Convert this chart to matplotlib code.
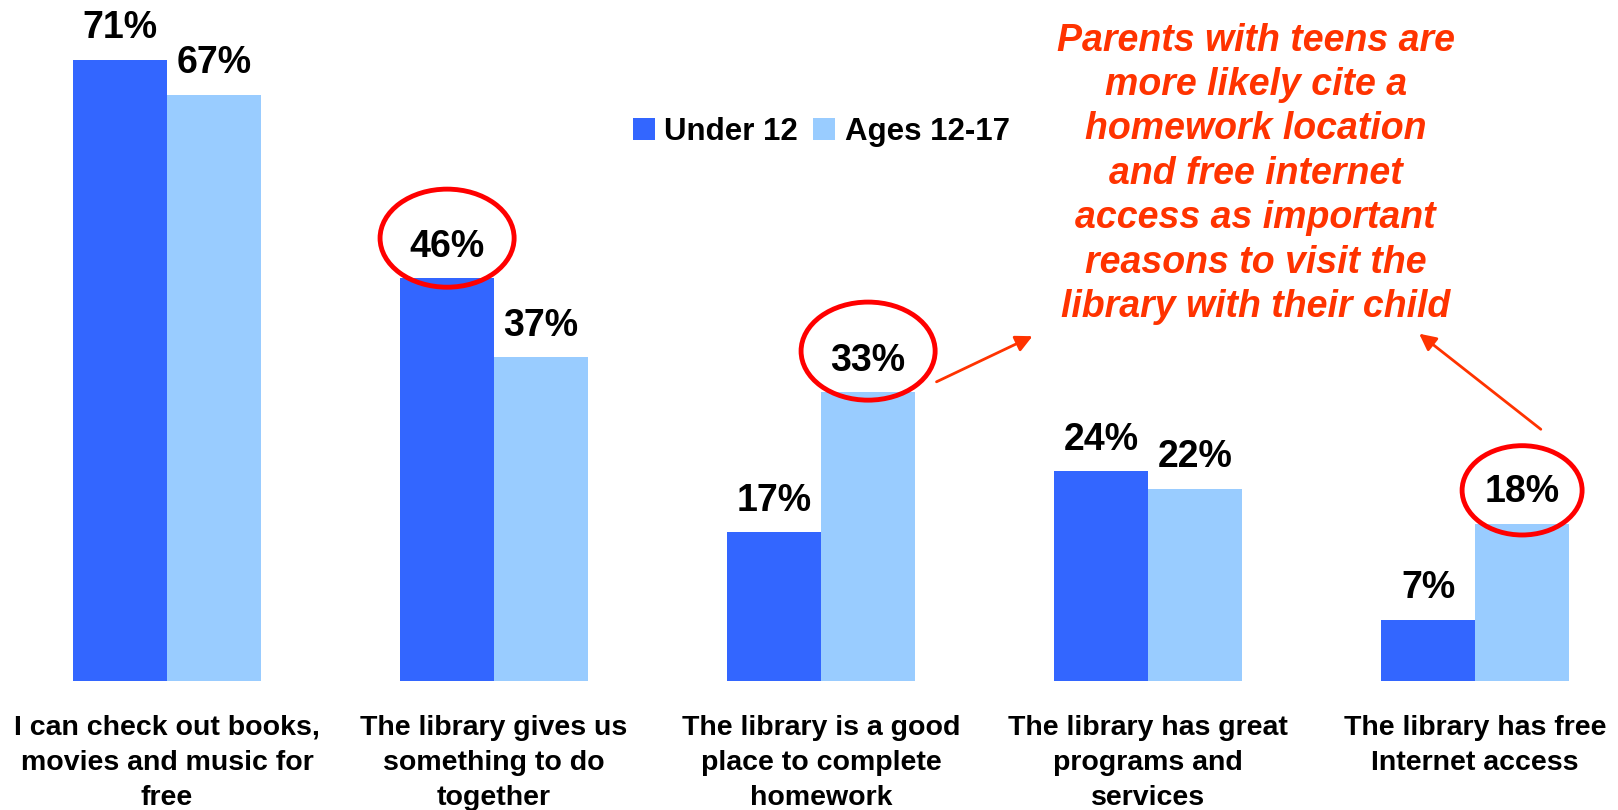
import matplotlib.pyplot as plt
from matplotlib.patches import Ellipse

plt.rcParams['font.family'] = ['Liberation Sans', 'DejaVu Sans']

categories = ['I can check out books,\nmovies and music for\nfree',
              'The library gives us\nsomething to do\ntogether',
              'The library is a good\nplace to complete\nhomework',
              'The library has great\nprograms and\nservices',
              'The library has free\nInternet access']
under12 = [71, 46, 17, 24, 7]
ages12_17 = [67, 37, 33, 22, 18]
series_names = ['Under 12', 'Ages 12-17']
colors = ['#3366FF', '#99CCFF']
note = ('Parents with teens are\nmore likely cite a\nhomework location\nand free internet\n'
        'access as important\nreasons to visit the\nlibrary with their child')
red = '#FF3300'

fig = plt.figure(figsize=(16.18, 8.1), dpi=100)
ax = fig.add_axes([0, 0.159, 1, 0.841])

x = range(len(categories))
w = 0.2875
b1 = ax.bar([i - w / 2 for i in x], under12, w, color=colors[0], label=series_names[0])
b2 = ax.bar([i + w / 2 for i in x], ages12_17, w, color=colors[1], label=series_names[1])

for bars, vals in [(b1, under12), (b2, ages12_17)]:
    for r, v in zip(bars, vals):
        ax.text(r.get_x() + r.get_width() / 2, v + 3.6, f'{v}%', ha='center', va='center',
                fontsize=27, fontweight='bold')

ax.set_xlim(-0.511, 4.437)
ax.set_ylim(0, 77.8)
ax.set_xticks(list(x))
ax.set_xticklabels(categories, fontsize=20.5, fontweight='bold', linespacing=1.45)
ax.tick_params(axis='x', length=0, pad=24)
ax.set_yticks([])
for s in ax.spines.values():
    s.set_visible(False)

# circles around highlighted values
for (cx, cy, ew, eh) in [(1 - w / 2, 46 + 4.6, 0.41, 11.2),
                         (2 + w / 2, 33 + 4.7, 0.41, 11.2),
                         (4 + w / 2, 18 + 3.8, 0.367, 10.2)]:
    ax.add_patch(Ellipse((cx, cy), ew, eh, fill=False, edgecolor='#FF0000', lw=3.5, clip_on=False))

fig.text(0.776, 0.972, note, ha='center', va='top', fontsize=27, fontweight='bold',
         style='italic', color=red, linespacing=1.3)

ax.annotate('', xy=(1035 / 1618, 1 - 335 / 810), xycoords='figure fraction',
            xytext=(934 / 1618, 1 - 383 / 810), textcoords='figure fraction',
            arrowprops=dict(arrowstyle='-|>', color=red, lw=2, mutation_scale=25))
ax.annotate('', xy=(1417 / 1618, 1 - 332 / 810), xycoords='figure fraction',
            xytext=(1543 / 1618, 1 - 431 / 810), textcoords='figure fraction',
            arrowprops=dict(arrowstyle='-|>', color=red, lw=2, mutation_scale=25))

fig.legend(loc='center left', bbox_to_anchor=(0.391, 0.837), ncol=2, frameon=False,
           prop={'size': 22.5, 'weight': 'bold'}, handlelength=0.7, handleheight=0.7,
           handletextpad=0.3, columnspacing=0.5, borderpad=0, borderaxespad=0)

plt.savefig('out.png', dpi=100)
